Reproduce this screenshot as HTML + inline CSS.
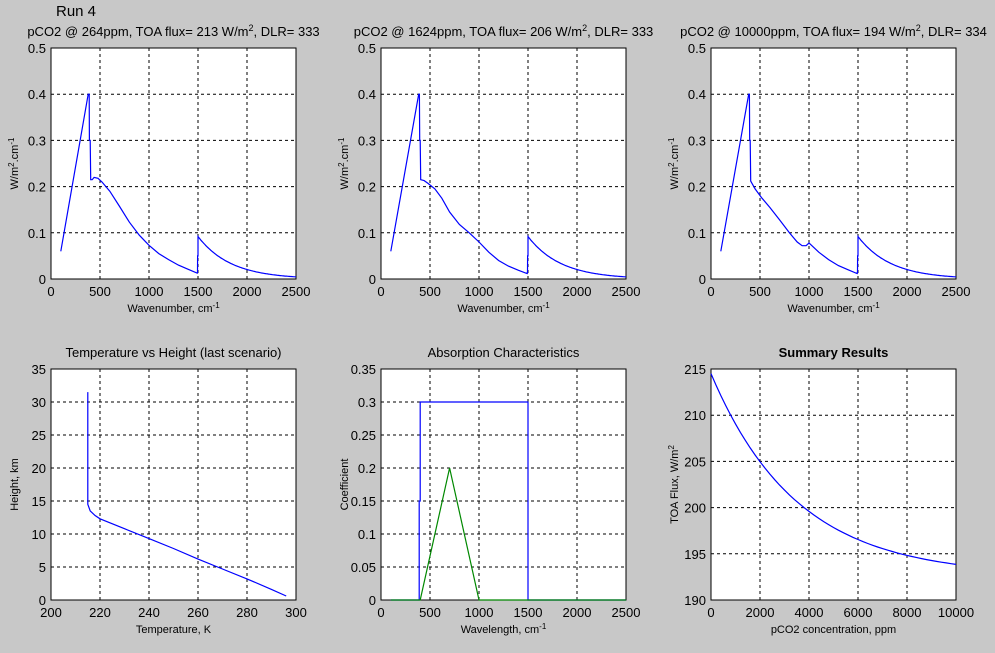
<!DOCTYPE html>
<html><head><meta charset="utf-8"><style>
body{margin:0;background:#c8c8c8;}
svg{display:block;font-family:"Liberation Sans",Arial,sans-serif;}
</style></head><body>
<svg id="s" width="995" height="653" xmlns="http://www.w3.org/2000/svg"></svg>
<script>
const s=document.getElementById('s');let h='';
h+='<text x="56" y="16" font-size="15" fill="#000">Run 4</text>';
function axes(o){
 const {x0,x1,y0,y1,xr,yr,xt,yt,fmtx,fmty}=o;
 const X=v=>x0+(v-xr[0])/(xr[1]-xr[0])*(x1-x0), Y=v=>y1-(v-yr[0])/(yr[1]-yr[0])*(y1-y0);
 h+=`<rect x="${x0}" y="${y0}" width="${x1-x0}" height="${y1-y0}" fill="#fff" stroke="#000"/>`;
 xt.forEach(v=>{const px=X(v);if(v!=xr[0]&&v!=xr[1])h+=`<line x1="${px}" y1="${y0}" x2="${px}" y2="${y1}" stroke="#000" stroke-dasharray="3,3"/>`;
  h+=`<text x="${px}" y="${y1+17}" font-size="13" text-anchor="middle">${fmtx?fmtx(v):v}</text>`;});
 yt.forEach(v=>{const py=Y(v);if(v!=yr[0]&&v!=yr[1])h+=`<line x1="${x0}" y1="${py}" x2="${x1}" y2="${py}" stroke="#000" stroke-dasharray="3,3"/>`;
  h+=`<text x="${x0-5}" y="${py+5}" font-size="13" text-anchor="end">${v}</text>`;});
 (o.series||[]).forEach(sr=>{h+=`<polyline fill="none" stroke="${sr.c}" stroke-width="1.2" points="${sr.p.map(p=>X(p[0]).toFixed(1)+','+Y(p[1]).toFixed(1)).join(' ')}"/>`;});
 h+=`<text x="${(x0+x1)/2}" y="${y0-12}" font-size="13" text-anchor="middle" ${o.bold?'font-weight="bold"':''}>${o.title}</text>`;
 h+=`<text x="${(x0+x1)/2}" y="${y1+33}" font-size="11" text-anchor="middle">${o.xl}</text>`;
 h+=`<text transform="translate(${x0-33},${(y0+y1)/2}) rotate(-90)" font-size="11" text-anchor="middle">${o.yl}</text>`;
}
function tail(){let r=[[1490,0.013],[1495,0.013],[1496,0.05],[1500,0.05],[1500,0.092]];for(let x=1510;x<=2500;x+=10)r.push([x,0.092*Math.exp(-0.003*(x-1500))]);return r;}
const s1=[[100,0.06],[380,0.4],[390,0.4],[392,0.3],[400,0.3],[405,0.215],[420,0.215],[440,0.22],[480,0.218],[520,0.21],[600,0.19],[700,0.157],[800,0.123],[900,0.095],[1000,0.073],[1100,0.055],[1200,0.042],[1300,0.03],[1400,0.021],[1490,0.013]].concat(tail());
const s2=[[100,0.06],[385,0.4],[392,0.4],[395,0.3],[400,0.3],[405,0.215],[440,0.213],[480,0.207],[550,0.195],[620,0.175],[700,0.145],[800,0.118],[900,0.1],[1000,0.08],[1100,0.058],[1200,0.04],[1300,0.028],[1400,0.019],[1490,0.012]].concat(tail());
const s3=[[100,0.06],[385,0.4],[392,0.4],[395,0.3],[400,0.3],[405,0.212],[450,0.195],[520,0.175],[600,0.155],[700,0.128],[800,0.1],[880,0.08],[930,0.072],[970,0.072],[1000,0.078],[1050,0.068],[1100,0.058],[1200,0.042],[1300,0.029],[1400,0.02],[1490,0.012]].concat(tail());
const wx=[0,500,1000,1500,2000,2500],wy=[0,0.1,0.2,0.3,0.4,0.5];
const tops=[[51,296,'pCO2 @ 264ppm, TOA flux= 213 W/m<tspan dy="-5" font-size="9">2</tspan><tspan dy="5">, DLR= 333</tspan>',s1],
[381,626,'pCO2 @ 1624ppm, TOA flux= 206 W/m<tspan dy="-5" font-size="9">2</tspan><tspan dy="5">, DLR= 333</tspan>',s2],
[711,956,'pCO2 @ 10000ppm, TOA flux= 194 W/m<tspan dy="-5" font-size="9">2</tspan><tspan dy="5">, DLR= 334</tspan>',s3]];
tops.forEach(t=>axes({x0:t[0],x1:t[1],y0:48,y1:279,xr:[0,2500],yr:[0,0.5],xt:wx,yt:wy,series:[{c:'#00f',p:t[3]}],title:t[2],
 xl:'Wavenumber, cm<tspan dy="-4" font-size="8">-1</tspan>',yl:'W/m<tspan dy="-4" font-size="8">2</tspan><tspan dy="4">.cm</tspan><tspan dy="-4" font-size="8">-1</tspan>'}));
axes({x0:51,x1:296,y0:369,y1:600,xr:[200,300],yr:[0,35],xt:[200,220,240,260,280,300],yt:[0,5,10,15,20,25,30,35],
 series:[{c:'#00f',p:[[215,31.5],[215,14.5],[216,13.5],[218,12.8],[220,12.3],[230,10.8],[240,9.3],[250,7.8],[260,6.2],[270,4.7],[280,3.2],[290,1.6],[296,0.6]]}],
 title:'Temperature vs Height (last scenario)',xl:'Temperature, K',yl:'Height, km'});
axes({x0:381,x1:626,y0:369,y1:600,xr:[0,2500],yr:[0,0.35],xt:wx,yt:[0,0.05,0.1,0.15,0.2,0.25,0.3,0.35],
 series:[{c:'#00f',p:[[100,0],[390,0],[390,0.15],[400,0.15],[400,0.3],[1500,0.3],[1500,0],[2500,0]]},{c:'#080',p:[[100,0],[400,0],[700,0.2],[1000,0],[2500,0]]}],
 title:'Absorption Characteristics',xl:'Wavelength, cm<tspan dy="-4" font-size="8">-1</tspan>',yl:'Coefficient'});
let sp=[];for(let x=0;x<=10000;x+=200){sp.push([x,192.6+21.9*Math.exp(-x/3500)]);}
axes({x0:711,x1:956,y0:369,y1:600,xr:[0,10000],yr:[190,215],xt:[0,2000,4000,6000,8000,10000],yt:[190,195,200,205,210,215],
 series:[{c:'#00f',p:sp}],title:'Summary Results',bold:1,xl:'pCO2 concentration, ppm',yl:'TOA Flux, W/m<tspan dy="-4" font-size="8">2</tspan>'});
s.innerHTML=h;
</script>
</body></html>
